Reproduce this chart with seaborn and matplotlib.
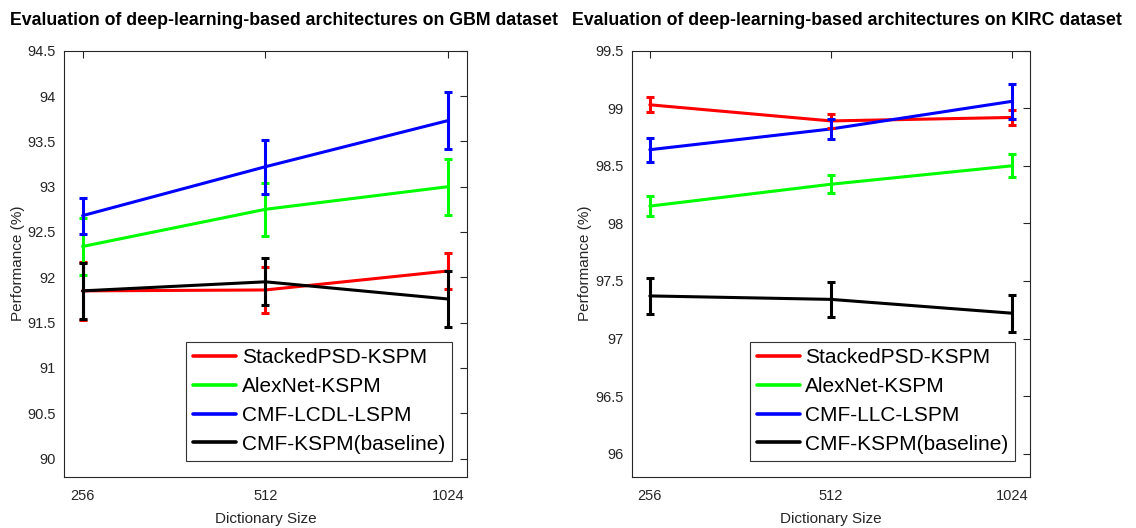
import numpy as np
import pandas as pd
import matplotlib
matplotlib.use("Agg")
import matplotlib.pyplot as plt
import seaborn as sns

sizes = ["256", "512", "1024"]
methods_gbm = ["StackedPSD-KSPM", "AlexNet-KSPM", "CMF-LCDL-LSPM", "CMF-KSPM(baseline)"]
methods_kirc = ["StackedPSD-KSPM", "AlexNet-KSPM", "CMF-LLC-LSPM", "CMF-KSPM(baseline)"]
colors = ["#ff0000", "#00ff00", "#0000ff", "#000000"]

gbm_stacked = [91.85, 91.86, 92.07]
gbm_stacked_err = [0.32, 0.25, 0.20]
gbm_alexnet = [92.34, 92.75, 93.00]
gbm_alexnet_err = [0.31, 0.29, 0.31]
gbm_cmf_lcdl = [92.68, 93.22, 93.73]
gbm_cmf_lcdl_err = [0.20, 0.30, 0.31]
gbm_baseline = [91.85, 91.95, 91.76]
gbm_baseline_err = [0.31, 0.26, 0.31]

kirc_stacked = [99.03, 98.89, 98.92]
kirc_stacked_err = [0.065, 0.06, 0.065]
kirc_alexnet = [98.15, 98.34, 98.50]
kirc_alexnet_err = [0.09, 0.08, 0.10]
kirc_cmf_llc = [98.64, 98.82, 99.06]
kirc_cmf_llc_err = [0.105, 0.085, 0.15]
kirc_baseline = [97.37, 97.34, 97.22]
kirc_baseline_err = [0.155, 0.155, 0.16]

gbm_means = [gbm_stacked, gbm_alexnet, gbm_cmf_lcdl, gbm_baseline]
gbm_errs = [gbm_stacked_err, gbm_alexnet_err, gbm_cmf_lcdl_err, gbm_baseline_err]
kirc_means = [kirc_stacked, kirc_alexnet, kirc_cmf_llc, kirc_baseline]
kirc_errs = [kirc_stacked_err, kirc_alexnet_err, kirc_cmf_llc_err, kirc_baseline_err]

gbm_yticks = [90, 90.5, 91, 91.5, 92, 92.5, 93, 93.5, 94, 94.5]
kirc_yticks = [96, 96.5, 97, 97.5, 98, 98.5, 99, 99.5]

sns.set_style("white")
plt.rcParams['font.family'] = ['Liberation Sans', 'DejaVu Sans']

fig = plt.figure(figsize=(11.36, 5.28), dpi=100)
ax1 = fig.add_axes([0.0566, 0.0972, 0.3542, 0.8068])
ax2 = fig.add_axes([0.5561, 0.0972, 0.3506, 0.8068])

axc = "#262626"


def draw(ax, methods, means, errs, yticks, ylim, title, title_x):
    x = np.arange(len(sizes))
    rows = []
    for m, vals in zip(methods, means):
        for xi, v in zip(x, vals):
            rows.append({"x": xi, "y": v, "method": m})
    df = pd.DataFrame(rows)
    sns.lineplot(data=df, x="x", y="y", hue="method", hue_order=methods,
                 palette=colors, linewidth=2.2, ax=ax, legend=False, zorder=3)
    for i, (m, vals, e) in enumerate(zip(methods, means, errs)):
        ax.errorbar(x, vals, yerr=e, fmt="none", ecolor=colors[i],
                    elinewidth=2.2, capsize=2.6, capthick=2.2, zorder=3 + i * 0.1)
    ax.set_xlim(-0.1, 2.1)
    ax.set_ylim(*ylim)
    ax.set_xticks(x)
    ax.set_xticklabels(sizes)
    ax.set_yticks(yticks)
    ax.set_yticklabels([("%g" % t) for t in yticks])
    ax.tick_params(direction="in", top=True, right=True, length=5, width=0.8,
                   colors=axc, labelsize=10.5, pad=6)
    ax.tick_params(axis="x", pad=9)
    for s in ax.spines.values():
        s.set_color(axc)
        s.set_linewidth(0.8)
        s.set_visible(True)
    ax.set_xlabel("Dictionary Size", fontsize=11, color=axc, labelpad=6)
    ax.set_ylabel("Performance (%)", fontsize=11, color=axc, labelpad=2)
    handles = [plt.Line2D([], [], color=c, linewidth=2.6) for c in colors]
    leg = ax.legend(handles, methods, loc="lower right", fontsize=15,
                    frameon=True, fancybox=False, framealpha=1,
                    edgecolor="#333333", handlelength=2.05, handletextpad=0.28,
                    labelspacing=0.47, borderpad=0.33, borderaxespad=0,
                    bbox_to_anchor=(0.9635, 0.0376))
    leg.get_frame().set_linewidth(0.8)
    for t in leg.get_texts():
        t.set_color("black")
    fig.text(title_x, 0.978, title, ha="left", va="top", fontsize=12.8,
             fontweight="bold", color="black",
             family=['Liberation Sans', 'DejaVu Sans'])


draw(ax1, methods_gbm, gbm_means, gbm_errs, gbm_yticks, (89.8, 94.5),
     "Evaluation of deep-learning-based architectures on GBM dataset", 10 / 1136)
draw(ax2, methods_kirc, kirc_means, kirc_errs, kirc_yticks, (95.8, 99.5),
     "Evaluation of deep-learning-based architectures on KIRC dataset", 572 / 1136)

fig.savefig("out.png", dpi=100)
